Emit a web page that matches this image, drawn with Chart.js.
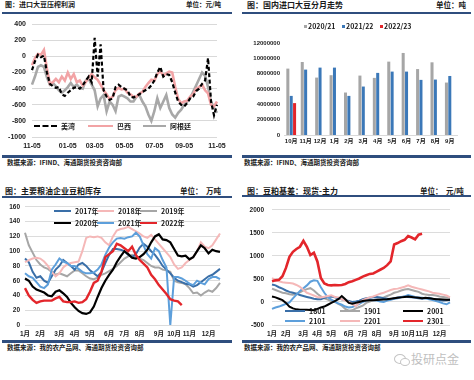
<!DOCTYPE html>
<html><head><meta charset="utf-8">
<script src="https://cdn.jsdelivr.net/npm/chart.js@4/dist/chart.umd.min.js"></script>
<style>
html,body{margin:0;padding:0;background:#fff;width:474px;height:380px;overflow:hidden;}
body{position:relative;font-family:"Noto Sans CJK SC","Noto Sans",sans-serif;}
.t{position:absolute;font-weight:bold;color:#1a1a1a;white-space:nowrap;line-height:1;}
.hr{position:absolute;background:#2f4e7e;}
canvas{position:absolute;}
.lg{position:absolute;display:flex;align-items:center;white-space:nowrap;font-size:7px;font-weight:bold;color:#1a1a1a;line-height:1;height:8px;}
.ln{display:inline-block;height:0;}
</style></head><body>
<div class="t" style="left:5px;top:1px;font-size:7px;">图：进口大豆压榨利润</div>
<div class="t" style="left:186px;top:1px;font-size:6.5px;">单位：元/吨</div>
<div class="hr" style="left:2px;top:12px;width:230px;height:2px;"></div>
<div class="hr" style="left:2px;top:155px;width:230px;height:2.5px;"></div>
<div class="t" style="left:7px;top:159px;font-size:6.5px;">数据来源：IFIND、海通期货投资咨询部</div>

<div class="t" style="left:247px;top:1px;font-size:8px;">图：国内进口大豆分月走势</div>
<div class="t" style="left:436px;top:1px;font-size:7.5px;">单位：吨</div>
<div class="hr" style="left:242px;top:12px;width:229px;height:2px;"></div>
<div class="hr" style="left:242px;top:155px;width:229px;height:2.5px;"></div>
<div class="t" style="left:244px;top:159px;font-size:6.5px;">数据来源：IFIND、海通期货投资咨询部</div>

<div class="t" style="left:5px;top:187px;font-size:8px;">图：主要粮油企业豆粕库存</div>
<div class="t" style="left:180px;top:187px;font-size:7.5px;">单位：&nbsp;&nbsp;万吨</div>
<div class="hr" style="left:2px;top:196px;width:230px;height:2px;"></div>
<div class="hr" style="left:2px;top:340px;width:230px;height:2.5px;"></div>
<div class="t" style="left:7px;top:344px;font-size:6.5px;">数据来源：我的农产品网、海通期货投资咨询部</div>

<div class="t" style="left:247px;top:187px;font-size:8px;">图：豆粕基差：现货-主力</div>
<div class="t" style="left:420px;top:187px;font-size:7.5px;">单位：&nbsp;&nbsp;元/吨</div>
<div class="hr" style="left:242px;top:195px;width:229px;height:2px;"></div>
<div class="hr" style="left:242px;top:340px;width:229px;height:2.5px;"></div>
<div class="t" style="left:244px;top:344px;font-size:6.5px;">数据来源：我的农产品网、海通期货投资咨询部</div>

<div style="position:absolute;left:394px;top:354px;width:10px;height:8px;border:1.2px solid #c4c4c4;border-radius:50%;"></div>
<div style="position:absolute;left:400px;top:358px;width:8px;height:6px;border:1.2px solid #c4c4c4;border-radius:50%;background:#fff;"></div>
<div class="t" style="left:411px;top:353px;font-size:12px;font-weight:normal;color:#c0c0c0;">投研点金</div>

<canvas id="c1" width="237" height="140" style="left:0;top:14px;"></canvas>
<canvas id="c2" width="237" height="140" style="left:237px;top:14px;"></canvas>
<canvas id="c3" width="237" height="142" style="left:0;top:198px;"></canvas>
<canvas id="c4" width="237" height="142" style="left:237px;top:198px;"></canvas>

<script>
// ---------- Panel 1: 进口大豆压榨利润 ----------
const p1Series = ['美湾','巴西','阿根廷'];
const p1TickLabels = ['11-05','01-05','03-05','05-05','07-05','09-05','11-05'];
const p1TickIdx = [0, 12, 21, 31, 41, 51, 62];
const usGulf = [-170,-60,20,-10,10,-200,-340,-370,-390,-380,-470,-490,-450,-420,-390,-380,-400,-360,-300,-250,-320,230,-250,150,-420,-500,-540,-520,-380,-350,-380,-400,-420,-500,-510,-490,-470,-440,-420,-400,-360,-300,-200,-130,-250,-220,-230,-320,-450,-560,-600,-620,-580,-520,-500,-430,-400,-340,-300,-20,-560,-730,-600];
const brazil = [-110,-20,30,20,80,-150,-340,-320,-280,-320,-250,-300,-200,-280,-220,-320,-300,-360,-320,-260,-220,-260,-290,-350,-420,-470,-530,-500,-420,-390,-410,-400,-450,-470,-500,-500,-460,-440,-380,-330,-290,-300,-220,-180,-240,-210,-190,-200,-380,-530,-580,-560,-550,-500,-470,-400,-380,-350,-420,-460,-600,-620,-560];
const argentina = [-350,-250,-130,-110,-130,-260,-350,-330,-370,-420,-450,-420,-380,-330,-380,-350,-390,-400,-300,-280,-350,-420,-620,-520,-480,-680,-560,-600,-680,-500,-480,-500,-520,-560,-560,-500,-480,-560,-620,-720,-800,-680,-520,-640,-560,-480,-640,-720,-760,-700,-660,-600,-560,-520,-440,-360,-280,-200,-240,-380,-560,-640,-700];

// ---------- Panel 2: 国内进口大豆分月走势 ----------
const p2Series = ['2020/21','2021/22','2022/23'];
const p2Months = ['10月','11月','12月','1月','2月','3月','4月','5月','6月','7月','8月','9月'];
const imp2021 = [8660000,9520000,7490000,7800000,5540000,7750000,7450000,9570000,10700000,8600000,9480000,6840000];
const imp2122 = [5100000,8530000,8790000,8790000,5100000,6320000,8100000,8270000,8270000,7190000,7230000,7700000];
const imp2223 = [4160000,null,null,null,null,null,null,null,null,null,null,null];

// ---------- Panel 3: 主要粮油企业豆粕库存 (weekly) ----------
const p3Series = ['2017年','2018年','2019年','2020年','2021年','2022年'];
const monthLabels = ['1月','2月','3月','4月','5月','6月','7月','8月','9月','10月','11月','12月'];
const monthIdx = [0,4,9,13,17,22,26,30,35,39,43,48];
const inv2017 = [90,85,72,64,66,60,57,66,75,80,88,84,80,75,82,84,80,74,70,66,72,84,95,103,103,102,100,95,92,96,105,110,106,100,95,88,80,75,70,64,60,58,56,55,52,54,58,62,66,68,72,76];
const inv2018 = [85,88,90,91,90,86,80,72,66,70,78,82,84,85,86,100,118,120,119,120,118,112,108,120,128,130,131,133,130,127,124,120,118,122,116,110,104,98,92,82,76,78,84,88,92,100,112,106,104,108,116,124];
const inv2019 = [125,108,98,88,82,78,76,72,68,70,68,66,70,74,74,70,66,63,62,64,68,70,73,76,80,85,90,93,95,92,90,88,84,80,78,78,75,74,72,60,58,57,55,50,43,44,40,44,47,45,50,57];
const inv2020 = [63,60,52,48,46,44,40,39,45,47,43,38,30,24,19,16,15,17,25,38,50,60,68,75,85,93,100,96,91,90,92,96,102,112,120,123,116,115,112,103,94,93,94,89,92,100,108,104,97,102,100,99];
const inv2021 = [70,66,64,58,52,50,55,75,82,90,86,84,80,80,76,72,70,70,71,75,82,95,105,112,117,118,117,119,120,125,120,108,96,90,104,100,88,78,0,65,65,63,60,56,54,60,57,55,62,65,65,62];
const inv2022 = [50,40,34,30,32,33,33,33,36,38,32,31,31,32,30,31,35,45,57,60,72,92,96,100,110,108,104,100,106,95,88,83,78,68,62,54,48,42,35,33,32,27];

// ---------- Panel 4: 豆粕基差 现货-主力 (weekly) ----------
const p4Series = ['1801','1901','2001','2101','2201','2301'];
const b1801 = [380,360,320,290,250,220,200,180,150,130,110,90,70,60,60,90,110,120,100,80,60,40,20,0,10,30,60,80,90,100,110,100,80,70,60,80,100,110,120,110,100,90,80,70,80,90,70,60,40,30,40,50];
const b1901 = [290,260,230,200,190,170,160,180,210,250,280,300,250,180,120,80,50,20,0,-40,-80,-150,-190,-180,-140,-110,-80,-20,10,40,60,80,100,130,160,200,220,250,270,280,260,240,220,180,160,150,150,140,120,110,100,100];
const b2001 = [120,100,70,40,-20,-100,-140,-160,-170,-170,-170,-175,-180,-150,-120,-100,-60,-20,20,60,130,60,-20,-40,-20,0,20,30,35,40,45,50,55,60,70,80,90,100,110,120,110,100,90,80,90,80,70,60,60,55,50,50];
const b2101 = [-150,-120,-100,-70,-40,-10,80,160,240,300,360,440,470,460,320,200,100,50,10,-30,-60,-100,-120,-110,-80,-40,0,30,50,40,30,10,0,30,50,70,80,100,120,150,130,110,100,90,80,60,40,20,0,-30,-50,-10];
const b2201 = [520,480,450,430,420,410,400,370,330,260,200,170,140,110,100,115,130,145,110,100,60,30,0,-40,-90,-10,40,70,100,120,150,180,200,230,260,280,290,310,330,360,330,310,290,270,250,230,200,190,180,160,140,100];
const b2301 = [450,470,480,560,740,980,1090,1150,1200,1330,1200,1020,1070,880,520,400,370,360,370,365,370,390,430,450,480,510,550,580,610,620,660,700,740,800,880,1250,1280,1320,1350,1430,1400,1360,1460,1480];

// ---------- helpers ----------
const FF = '"Liberation Sans","Noto Sans CJK SC",sans-serif';
const tf = (s) => ({family: FF, size: s, weight: 'bold'});
function sparseLabels(n, idx, labels) {
  const a = new Array(n).fill('');
  idx.forEach((k, j) => { a[k] = labels[j]; });
  return a;
}
const p1Cats = sparseLabels(usGulf.length, p1TickIdx, p1TickLabels);
const weekCats = sparseLabels(inv2017.length, monthIdx, monthLabels);
const base = {responsive:false, animation:false, events:[], plugins:{legend:{display:false}, tooltip:{enabled:false}}};
const ln = (label, data, color, width, extra) => Object.assign({label, data, borderColor: color, backgroundColor: color, borderWidth: width, pointRadius: 0, tension: 0, fill: false}, extra || {});
const numLbl = (v) => String(v);
const xCat = (pad, size, h) => ({type:'category', offset:false,
  ticks:{autoSkip:false, maxRotation:0, minRotation:0, padding:pad, font:tf(size), color:'#222'},
  grid:{display:false, drawTicks:false}, border:{display:false}, afterFit:s=>{s.height=h;}});

// Panel 1
new Chart(document.getElementById('c1'), {
  type: 'line',
  data: {labels: p1Cats, datasets: [
    ln(p1Series[0], usGulf, '#000000', 2.2, {borderDash:[4,2.5]}),
    ln(p1Series[1], brazil, '#f2a3a5', 2.6),
    ln(p1Series[2], argentina, '#a8a8a8', 2.6)
  ]},
  options: Object.assign({}, base, {
    layout: {padding: {top: 5, right: 20, left: 0, bottom: 0}},
    scales: {
      x: xCat(5, 7, 17),
      y: {min:-1000, max:400, ticks:{stepSize:200, padding:6, font:tf(7), color:'#222', callback:numLbl},
          grid:{color:'#d9d9d9', drawTicks:false}, border:{display:false}, afterFit:s=>{s.width=32;}}
    }
  })
});

// Panel 2
new Chart(document.getElementById('c2'), {
  type: 'bar',
  data: {labels: p2Months, datasets: [
    {label:p2Series[0], data: imp2021, backgroundColor:'#a6a6a6'},
    {label:p2Series[1], data: imp2122, backgroundColor:'#3b78b8'},
    {label:p2Series[2], data: imp2223, backgroundColor:'#e2252a'}
  ]},
  options: Object.assign({}, base, {
    datasets: {bar: {categoryPercentage: 0.7, barPercentage: 0.9}},
    layout: {padding: {top: 29, right: 17, left: 0, bottom: 0}},
    scales: {
      x: {ticks:{padding:3, font:tf(6), color:'#222', autoSkip:false, maxRotation:0},
          grid:{display:false, drawTicks:false}, border:{display:true, color:'#d9d9d9'}, afterFit:s=>{s.height=19;}},
      y: {min:0, max:12000000, ticks:{stepSize:2000000, padding:4, font:tf(6), color:'#222', callback:numLbl},
          grid:{display:false, drawTicks:false}, border:{display:false}, afterFit:s=>{s.width=47;}}
    }
  })
});

// Panel 3
new Chart(document.getElementById('c3'), {
  type: 'line',
  data: {labels: weekCats, datasets: [
    ln(p3Series[0], inv2017, '#3a6fa8', 2, {order:5}),
    ln(p3Series[1], inv2018, '#f5b8b8', 2, {order:4}),
    ln(p3Series[2], inv2019, '#a6a6a6', 2, {order:6}),
    ln(p3Series[3], inv2020, '#000000', 2.2, {order:1}),
    ln(p3Series[4], inv2021, '#5d9fdb', 2, {order:3}),
    ln(p3Series[5], inv2022, '#e3262b', 2.4, {order:0})
  ]},
  options: Object.assign({}, base, {
    layout: {padding: {top: 8, right: 17, left: 0, bottom: 0}},
    scales: {
      x: xCat(5, 6.5, 15),
      y: {min:0, max:160, ticks:{stepSize:20, padding:5, font:tf(6.5), color:'#222', callback:numLbl},
          grid:{color:'#dcdcdc', drawTicks:false}, border:{display:false}, afterFit:s=>{s.width=25;}}
    }
  })
});

// Panel 4
new Chart(document.getElementById('c4'), {
  type: 'line',
  data: {labels: weekCats, datasets: [
    ln(p4Series[0], b1801, '#3a6fa8', 2, {order:4}),
    ln(p4Series[1], b1901, '#a6a6a6', 2, {order:5}),
    ln(p4Series[2], b2001, '#000000', 2, {order:1}),
    ln(p4Series[3], b2101, '#5d9fdb', 2, {order:3}),
    ln(p4Series[4], b2201, '#f5b8b8', 2, {order:2}),
    ln(p4Series[5], b2301, '#e3262b', 2.6, {order:0})
  ]},
  options: Object.assign({}, base, {
    layout: {padding: {top: 5, right: 24, left: 0, bottom: 0}},
    scales: {
      x: xCat(5, 6.5, 15),
      y: {min:-500, max:2000, ticks:{stepSize:500, padding:8, font:tf(6.5), color:'#222', callback:numLbl},
          grid:{color:'#dcdcdc', drawTicks:false}, border:{display:false}, afterFit:s=>{s.width=35;}}
    }
  })
});

// ---------- HTML legends ----------
function legendItem(x, y, text, color, style, len, w, isBox) {
  const d = document.createElement('div');
  d.className = 'lg';
  d.style.left = x + 'px';
  d.style.top = (y - 4) + 'px';
  const m = document.createElement('span');
  if (isBox) {
    m.style.cssText = 'display:inline-block;width:3px;height:3px;margin-right:1px;background:' + color;
  } else {
    m.className = 'ln';
    m.style.width = len + 'px';
    m.style.borderTop = w + 'px ' + style + ' ' + color;
    m.style.marginRight = '4px';
  }
  d.appendChild(m);
  d.appendChild(document.createTextNode(text));
  document.body.appendChild(d);
}
legendItem(34, 126, p1Series[0], '#000', 'dashed', 23, 2.5);
legendItem(88, 126, p1Series[1], '#f2a3a5', 'solid', 25, 2.5);
legendItem(143, 126, p1Series[2], '#a8a8a8', 'solid', 23, 2.5);
legendItem(304, 26, p2Series[0], '#a6a6a6', '', 0, 0, true);
legendItem(342, 26, p2Series[1], '#3b78b8', '', 0, 0, true);
legendItem(380, 26, p2Series[2], '#e2252a', '', 0, 0, true);
const p3Colors = ['#3a6fa8','#f5b8b8','#a6a6a6','#000000','#5d9fdb','#e3262b'];
[[54,211],[97,211],[140,211],[54,223],[97,223],[140,223]].forEach((p, i) =>
  legendItem(p[0], p[1], p3Series[i], p3Colors[i], 'solid', 17, 2));
const p4Colors = ['#3a6fa8','#a6a6a6','#000000','#5d9fdb','#f5b8b8','#e3262b'];
[[285,311],[340,311],[403,311],[285,321],[340,321],[403,321]].forEach((p, i) =>
  legendItem(p[0], p[1], p4Series[i], p4Colors[i], 'solid', 20, 2));
</script>
</body></html>
